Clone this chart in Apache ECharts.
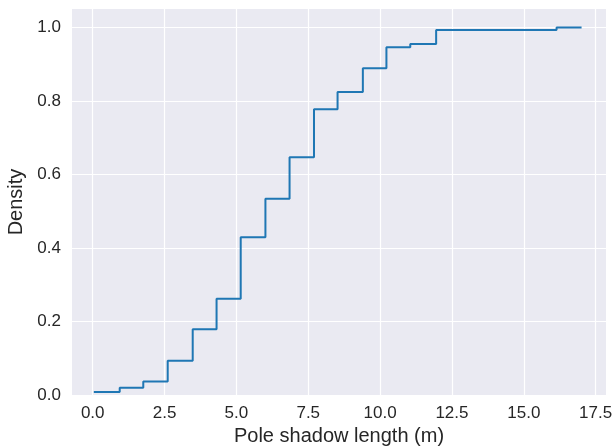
<!DOCTYPE html>
<html>
<head>
<meta charset="utf-8">
<script src="https://cdn.jsdelivr.net/npm/echarts@6.0.0/dist/echarts.min.js"></script>
<style>
  html, body { margin: 0; padding: 0; background: #fff; }
  #chart { width: 615px; height: 446px; }
</style>
</head>
<body>
<div id="chart"></div>
<script>
// ECDF of pole shadow length (steps-post)
const shadowLength = [0.04, 0.94, 1.76, 2.61, 3.48, 4.31, 5.15, 6.01, 6.85, 7.70, 8.52, 9.40, 10.22, 11.05, 11.95, 16.14, 17.01]
const density = [0.008, 0.020, 0.037, 0.093, 0.179, 0.262, 0.429, 0.534, 0.647, 0.777, 0.824, 0.889, 0.946, 0.955, 0.993, 1.0, 1.0]

// tick labels
const xTicks = [0, 2.5, 5, 7.5, 10, 12.5, 15, 17.5]
const yTicks = [0, 0.2, 0.4, 0.6, 0.8, 1.0]

const textColor = '#262626'
const fontFamily = '"Liberation Sans", Arial, sans-serif'

const chart = echarts.init(document.getElementById('chart'))

const option = {
  animation: false,
  backgroundColor: '#ffffff',
  grid: {
    left: 72,
    right: 9,
    top: 9,
    bottom: 51,
    outerBoundsMode: 'none',
    containLabel: false,
    show: true,
    backgroundColor: '#eaeaf2',
    borderWidth: 0
  },
  xAxis: {
    type: 'value',
    min: -0.72,
    max: 17.86,
    name: 'Pole shadow length (m)',
    nameLocation: 'middle',
    nameGap: 27,
    nameTextStyle: { color: textColor, fontSize: 20, fontFamily: fontFamily },
    axisLine: { show: false },
    axisTick: { show: false, customValues: xTicks },
    axisLabel: {
      customValues: xTicks,
      color: textColor,
      fontSize: 17,
      fontFamily: fontFamily,
      margin: 10,
      formatter: function (v) { return v.toFixed(1) }
    },
    splitLine: { show: true, lineStyle: { color: '#ffffff', width: 1.2 } }
  },
  yAxis: {
    type: 'value',
    min: 0,
    max: 1.05,
    name: 'Density',
    nameLocation: 'middle',
    nameGap: 39,
    nameTextStyle: { color: textColor, fontSize: 20, fontFamily: fontFamily },
    axisLine: { show: false },
    axisTick: { show: false, customValues: yTicks },
    axisLabel: {
      customValues: yTicks,
      color: textColor,
      fontSize: 17,
      fontFamily: fontFamily,
      margin: 11,
      formatter: function (v) { return v.toFixed(1) }
    },
    splitLine: { show: true, lineStyle: { color: '#ffffff', width: 1.2 } }
  },
  series: [
    {
      type: 'line',
      step: 'end',
      showSymbol: false,
      data: shadowLength.map(function (x, i) { return [x, density[i]] }),
      lineStyle: { color: '#1f77b4', width: 2 }
    }
  ]
}

chart.setOption(option)
</script>
</body>
</html>
